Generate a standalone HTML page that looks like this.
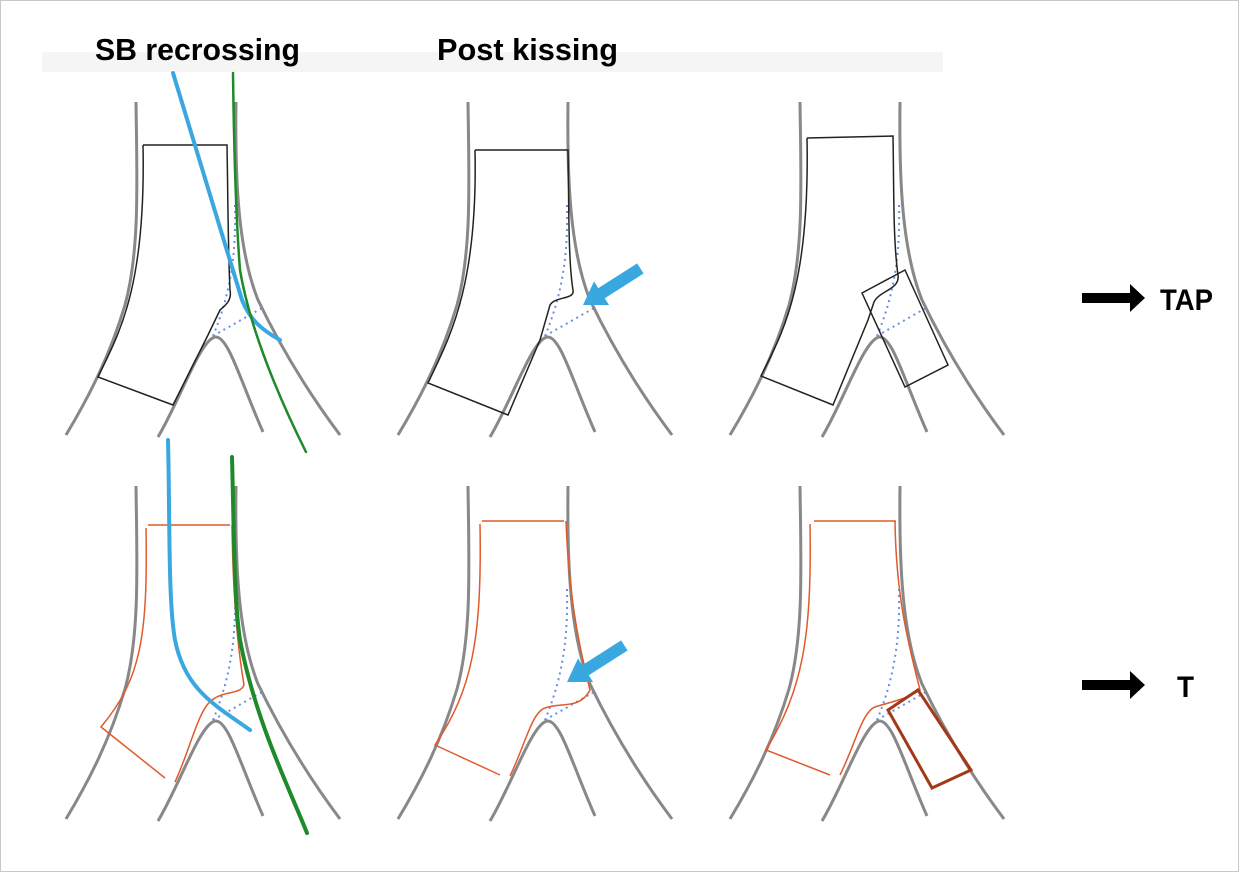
<!DOCTYPE html>
<html><head><style>
html,body{margin:0;padding:0;background:#fff}
svg{display:block}
text{font-family:"Liberation Sans Narrow","Liberation Sans",sans-serif;font-weight:bold;fill:#000}
</style></head><body>
<svg width="1239" height="872" viewBox="0 0 1239 872" xmlns="http://www.w3.org/2000/svg">
<rect x="0.5" y="0.5" width="1238" height="871" fill="#fff" stroke="#c8c8c8"/>
<rect x="42" y="52" width="901" height="20" fill="#f5f5f5"/>
<text x="95" y="60" font-size="31" textLength="205" lengthAdjust="spacingAndGlyphs">SB recrossing</text>
<text x="437" y="60" font-size="31" textLength="181" lengthAdjust="spacingAndGlyphs">Post kissing</text>
<defs>
<g id="v" fill="none" stroke="#888" stroke-width="3">
<path d="M136,102 C137,180 140,250 125,305 C110,355 90,395 66,435"/>
<path d="M236,102 C235,180 238,250 258,300 C282,350 310,395 340,435"/>
<path d="M158,437 C180,400 200,340 215,337 C228,335 240,380 263,432"/>
</g>
<g id="dot" fill="none" stroke="#6a8ee0" stroke-width="2" stroke-dasharray="2,4">
<path d="M235,205 C236,250 232,290 213,336"/>
<path d="M213,336 L262,308"/>
</g>
<g id="arr"><polygon points="0,0 22,-14 22,-6 68,-6 68,6 22,6 22,14" fill="#3aa8e0"/></g>
</defs>
<use href="#v"/><use href="#v" x="332"/><use href="#v" x="664"/>
<use href="#v" y="384"/><use href="#v" x="332" y="384"/><use href="#v" x="664" y="384"/>
<use href="#dot"/><use href="#dot" x="332"/><use href="#dot" x="664"/>
<use href="#dot" y="384"/><use href="#dot" x="332" y="384"/><use href="#dot" x="664" y="384"/>
<g fill="none" stroke="#222" stroke-width="1.5">
<path d="M143,145 L227,145 C228,200 228,250 230,290 C232,300 226,305 220,310 L208,335 L173,405 L98,377 C118,335 146,290 143,145"/>
<path d="M475,150 L568,150 C569,200 568,260 573,290 C575,300 555,296 550,305 L540,340 L508,415 L428,383 C448,340 478,290 475,150"/>
<path d="M807,138 L893,136 C894,190 893,240 898,275 C900,290 880,290 874,302 L868,320 L833,405 L761,376 C781,335 810,290 807,138"/>
<path d="M862,293 L905,270 L948,365 L905,387 Z"/>
</g>
<g fill="none" stroke="#e05a2b" stroke-width="1.5">
<path d="M148,525 L230,525"/><path d="M146,528 C148,640 140,680 101,727 L165,778"/>
<path d="M175,782 C190,750 198,710 212,700 C225,690 240,695 244,685 C238,650 233,600 232,525"/>
<path d="M482,521 L564,521"/><path d="M480,524 C482,640 472,690 435,745 L500,775"/>
<path d="M510,776 C525,745 532,712 545,708 C560,702 580,710 590,690 C580,650 569,600 566,521"/>
<path d="M814,521 L896,521"/><path d="M810,524 C812,640 802,690 766,750 L830,775"/>
<path d="M840,775 C855,745 862,712 875,707 C890,702 905,700 920,690 C910,650 896,600 895,521"/>
</g>
<path d="M888,710 L918,690 L971,770 L932,788 Z" fill="none" stroke="#a23a1a" stroke-width="3"/>
<g fill="none" stroke-linecap="round">
<path d="M173,73 L242,300 C250,320 262,330 280,340" stroke="#3aa8e0" stroke-width="4"/>
<path d="M233,73 C234,150 236,220 240,270 C250,330 280,400 306,452" stroke="#1e8a2a" stroke-width="2.5"/>
<path d="M168,440 C170,520 168,600 175,640 C185,690 215,705 250,730" stroke="#3aa8e0" stroke-width="4"/>
<path d="M232,457 C234,530 234,600 240,640 C255,720 290,790 307,833" stroke="#1e8a2a" stroke-width="4"/>
</g>
<use href="#arr" transform="translate(583,305) rotate(-32.5)"/>
<use href="#arr" transform="translate(567,682) rotate(-32.5)"/>
<path d="M1082,293 L1130,293 L1130,284 L1145,298 L1130,312 L1130,303 L1082,303 Z" fill="#000"/>
<text x="1160" y="310" font-size="30" textLength="53" lengthAdjust="spacingAndGlyphs">TAP</text>
<path d="M1082,680 L1130,680 L1130,671 L1145,685 L1130,699 L1130,690 L1082,690 Z" fill="#000"/>
<text x="1177" y="697" font-size="30" textLength="17" lengthAdjust="spacingAndGlyphs">T</text>
</svg>
</body></html>
